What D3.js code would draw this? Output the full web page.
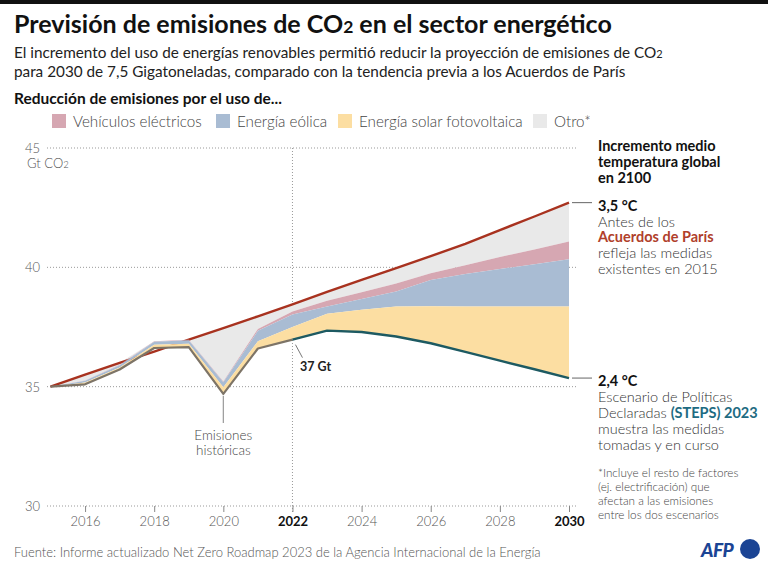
<!DOCTYPE html>
<html>
<head>
<meta charset="utf-8">
<script src="https://cdn.jsdelivr.net/npm/d3@7"></script>
<style>
  body { margin: 0; background: #fff; }
  svg { display: block; font-family: "Lato", "Noto Sans", sans-serif; }
</style>
</head>
<body>
<div id="chart"></div>
<script>
// años de la serie
const years = [2015, 2016, 2017, 2018, 2019, 2020, 2021, 2022, 2023, 2024, 2025, 2026, 2027, 2028, 2029, 2030];

// emisiones históricas + escenario STEPS 2023 (Gt CO2)
const steps = [35.0, 35.1, 35.72, 36.62, 36.66, 34.7, 36.6, 36.97, 37.35, 37.29, 37.1, 36.82, 36.46, 36.09, 35.73, 35.36];
// borde superior de cada banda de reducción (acumulado)
const solarTop = [35.0, 35.17, 35.8, 36.76, 36.8, 34.98, 36.9, 37.5, 38.05, 38.22, 38.36, 38.37, 38.36, 38.36, 38.36, 38.36];
const windTop = [35.0, 35.25, 35.9, 36.88, 36.95, 35.18, 37.34, 38.02, 38.36, 38.67, 38.99, 39.47, 39.72, 39.93, 40.13, 40.34];
const evTop = [35.0, 35.26, 35.92, 36.9, 36.97, 35.22, 37.42, 38.15, 38.6, 38.96, 39.32, 39.75, 40.09, 40.43, 40.75, 41.08];
// tendencia previa a los Acuerdos de París
const preParis = [35.0, 35.5, 36.0, 36.47, 36.97, 37.45, 37.95, 38.45, 38.97, 39.47, 39.97, 40.47, 40.98, 41.56, 42.13, 42.71];

const yTicks = [30, 35, 40, 45];
const xTicks = [2016, 2018, 2020, 2022, 2024, 2026, 2028, 2030];
const boldYears = [2022, 2030];

const legendItems = [
  { label: "Vehículos eléctricos", color: "#d6a7b2" },
  { label: "Energía eólica", color: "#a9bcd3" },
  { label: "Energía solar fotovoltaica", color: "#fcdea2" },
  { label: "Otro*", color: "#e9e9e9" },
];

const W = 768, H = 567;
const rows = years.map((yr, i) => ({
  year: yr, base: steps[i], solar: solarTop[i], wind: windTop[i], ev: evTop[i], top: preParis[i],
}));

const svg = d3.select("#chart").append("svg").attr("width", W).attr("height", H);

const x = d3.scaleLinear().domain([2015, 2030]).range([50.5, 569]);
const y = d3.scaleLinear().domain([30, 45]).range([506, 148]);

// barra superior
svg.append("rect").attr("x", 0).attr("y", 0).attr("width", W).attr("height", 4).attr("fill", "#111");

// títulos
svg.append("text").attr("x", 14).attr("y", 33)
  .attr("font-size", 25).attr("font-weight", 700).attr("fill", "#111")
  .html('Previsión de emisiones de CO<tspan font-size="17.5">2</tspan> en el sector energético');

const sub = svg.append("text").attr("font-size", 15.3).attr("fill", "#222");
sub.append("tspan").attr("x", 14).attr("y", 58)
  .html('El incremento del uso de energías renovables permitió reducir la proyección de emisiones de CO<tspan font-size="11">2</tspan>');
sub.append("tspan").attr("x", 14).attr("y", 77)
  .text("para 2030 de 7,5 Gigatoneladas, comparado con la tendencia previa a los Acuerdos de París");

svg.append("text").attr("x", 14).attr("y", 104)
  .attr("font-size", 15.5).attr("font-weight", 700).attr("fill", "#111")
  .text("Reducción de emisiones por el uso de...");

// leyenda
const legendX = [52, 216, 338, 533];
const lg = svg.append("g").selectAll("g").data(legendItems).join("g")
  .attr("transform", (d, i) => `translate(${legendX[i]},114)`);
lg.append("rect").attr("width", 14).attr("height", 14).attr("fill", d => d.color);
lg.append("text").attr("x", 21).attr("y", 12.5).attr("font-size", 15.2).attr("font-weight", 300)
  .attr("fill", "#444").text(d => d.label);

// rejilla
const grid = svg.append("g");
grid.selectAll("line").data(yTicks).join("line")
  .attr("x1", 47).attr("x2", 578)
  .attr("y1", d => y(d)).attr("y2", d => y(d))
  .attr("stroke", "#999").attr("stroke-width", 1).attr("stroke-dasharray", "1,2");
grid.selectAll("text").data(yTicks).join("text")
  .attr("x", 40).attr("y", d => y(d) + 5).attr("text-anchor", "end")
  .attr("font-size", 13).attr("font-weight", 300).attr("fill", "#555").text(d => d);
svg.append("text").attr("x", 27).attr("y", 168).attr("font-size", 13).attr("font-weight", 300).attr("fill", "#555")
  .html('Gt CO<tspan font-size="9.5">2</tspan>');

svg.append("line")
  .attr("x1", x(2022)).attr("x2", x(2022)).attr("y1", y(45)).attr("y2", y(30) + 6)
  .attr("stroke", "#999").attr("stroke-dasharray", "1,2");

// eje x
const xAxis = svg.append("g").attr("transform", `translate(0,${y(30)})`)
  .call(d3.axisBottom(x).tickValues(xTicks).tickFormat(d3.format("d")).tickSize(6).tickPadding(5));
xAxis.select(".domain").remove();
xAxis.selectAll(".tick line").attr("stroke", "#888");
xAxis.selectAll(".tick text")
  .attr("font-family", "Lato, sans-serif").attr("font-size", 13).attr("fill", d => boldYears.includes(d) ? "#111" : "#555")
  .attr("font-weight", d => boldYears.includes(d) ? 700 : 300);

// áreas
const band = (lo, hi) => d3.area().x(d => x(d.year)).y0(d => y(lo(d))).y1(d => y(hi(d)));

svg.append("path").datum(rows).attr("fill", "#e9e9e9")
  .attr("d", band(d => d.ev, d => Math.max(d.ev, d.top)));

const topLine = d3.line().x(d => x(d.year)).y(d => y(d.top));
svg.append("path").datum(rows).attr("fill", "none").attr("stroke", "#a8321f").attr("stroke-width", 2.4)
  .attr("d", topLine);

svg.append("path").datum(rows).attr("fill", "#d6a7b2").attr("d", band(d => d.wind, d => d.ev));
svg.append("path").datum(rows).attr("fill", "#a9bcd3").attr("d", band(d => d.solar, d => d.wind));
svg.append("path").datum(rows).attr("fill", "#fcdea2").attr("d", band(d => d.base, d => d.solar));

// líneas de emisiones
const baseLine = d3.line().x(d => x(d.year)).y(d => y(d.base));
svg.append("path").datum(rows.filter(d => d.year <= 2022)).attr("fill", "none")
  .attr("stroke", "#7d7467").attr("stroke-width", 2.2).attr("stroke-linejoin", "round").attr("d", baseLine);
svg.append("path").datum(rows.filter(d => d.year >= 2022)).attr("fill", "none")
  .attr("stroke", "#1d5a62").attr("stroke-width", 2.4).attr("stroke-linejoin", "round").attr("d", baseLine);

// anotaciones internas
const low = rows.find(d => d.year === 2020);
svg.append("line").attr("x1", x(2020)).attr("x2", x(2020)).attr("y1", y(low.base) + 2).attr("y2", 423)
  .attr("stroke", "#999").attr("stroke-width", 1.2);
const hist = svg.append("text").attr("text-anchor", "middle").attr("font-size", 13.5).attr("font-weight", 300).attr("fill", "#444");
hist.append("tspan").attr("x", x(2020)).attr("y", 440).text("Emisiones");
hist.append("tspan").attr("x", x(2020)).attr("y", 455).text("históricas");

const r22 = rows.find(d => d.year === 2022);
svg.append("line").attr("x1", x(2022) + 3).attr("y1", y(r22.base) + 5).attr("x2", x(2022) + 10).attr("y2", y(r22.base) + 18)
  .attr("stroke", "#555").attr("stroke-width", 0.8);
svg.append("text").attr("x", 300).attr("y", 371).attr("font-size", 12.5).attr("font-weight", 700).attr("fill", "#222").text("37 Gt");

// anotaciones derecha
const last = rows[rows.length - 1];
svg.append("line").attr("x1", 572).attr("x2", 592).attr("y1", y(last.top)).attr("y2", y(last.top)).attr("stroke", "#666");
svg.append("line").attr("x1", 572).attr("x2", 592).attr("y1", y(last.base)).attr("y2", y(last.base)).attr("stroke", "#666");

const tx = 598;
const block = (lines, y0, lh, size) => {
  const t = svg.append("text").attr("font-size", size);
  lines.forEach((l, i) => {
    const ts = t.append("tspan").attr("x", tx).attr("y", y0 + i * lh);
    l.forEach(p => ts.append("tspan").attr("font-weight", p.w || 300).attr("fill", p.c || "#333").text(p.t));
  });
};
block([[{ t: "Incremento medio", w: 700, c: "#111" }], [{ t: "temperatura global", w: 700, c: "#111" }], [{ t: "en 2100", w: 700, c: "#111" }]], 151, 16, 14.5);
block([
  [{ t: "3,5 °C", w: 700, c: "#111" }],
  [{ t: "Antes de los" }],
  [{ t: "Acuerdos de París", w: 700, c: "#b0402b" }],
  [{ t: "refleja las medidas" }],
  [{ t: "existentes en 2015" }],
], 211, 15.7, 14.5);
block([
  [{ t: "2,4 °C", w: 700, c: "#111" }],
  [{ t: "Escenario de Políticas" }],
  [{ t: "Declaradas " }, { t: "(STEPS) 2023", w: 700, c: "#1e6b82" }],
  [{ t: "muestra las medidas" }],
  [{ t: "tomadas y en curso" }],
], 386, 16, 14.5);
block([
  [{ t: "*Incluye el resto de  factores", c: "#444" }],
  [{ t: "(ej. electrificación) que", c: "#444" }],
  [{ t: "afectan a las emisiones", c: "#444" }],
  [{ t: "entre los dos escenarios", c: "#444" }],
], 477, 14, 11.7);

// fuente
svg.append("text").attr("x", 14).attr("y", 557).attr("font-size", 13).attr("font-weight", 300).attr("fill", "#555")
  .text("Fuente: Informe actualizado Net Zero Roadmap 2023 de la Agencia Internacional de la Energía");

// logo AFP
svg.append("text").attr("x", 701).attr("y", 557).attr("font-size", 19).attr("font-weight", 900)
  .attr("font-style", "italic").attr("fill", "#1b4494").attr("letter-spacing", -0.5).text("AFP");
svg.append("circle").attr("cx", 750).attr("cy", 549).attr("r", 10).attr("fill", "#1b4494");
</script>
</body>
</html>
